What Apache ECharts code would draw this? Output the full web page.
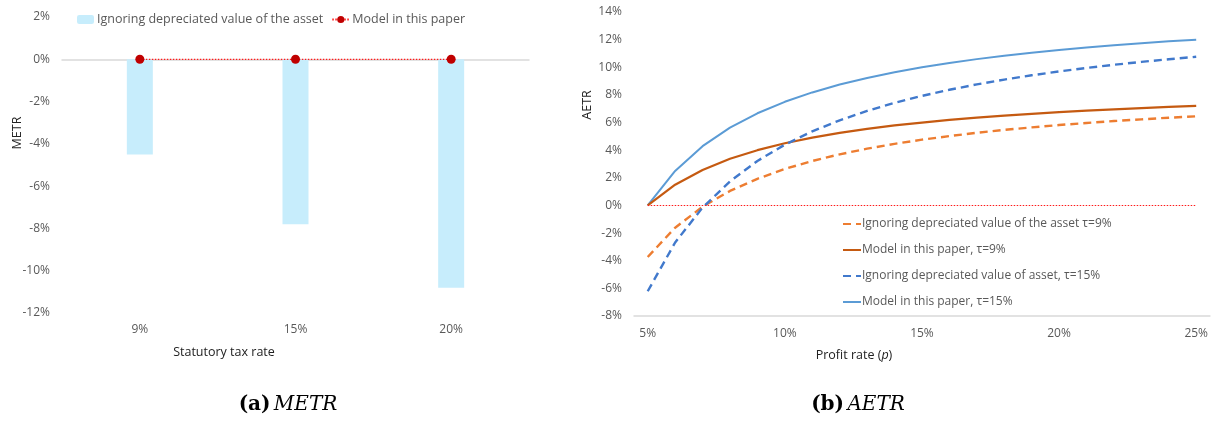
<!DOCTYPE html>
<html>
<head>
<meta charset="utf-8">
<script src="https://cdn.jsdelivr.net/npm/echarts@6/dist/echarts.min.js"></script>
<style>
html,body{margin:0;padding:0;background:#fff;}
#chart{width:1211px;height:421px;}
</style>
</head>
<body>
<div id="chart"></div>
<script>
// ---- Data (a) METR ----
const metrCategories = ['9%', '15%', '20%'];
const metrIgnoring = [-4.5, -7.8, -10.8];
const metrModel = [0, 0, 0];

// ---- Data (b) AETR ----
const profitCategories = ['5%','6%','7%','8%','9%','10%','11%','12%','13%','14%','15%','16%','17%','18%','19%','20%','21%','22%','23%','24%','25%'];
const aetrIgnoring9 = [-3.73,-1.61,-0.09,1.05,1.93,2.64,3.22,3.70,4.11,4.46,4.76,5.02,5.26,5.47,5.65,5.82,5.97,6.11,6.23,6.35,6.45];
const aetrModel9 = [0,1.50,2.57,3.38,4.00,4.50,4.91,5.25,5.54,5.79,6.00,6.19,6.35,6.50,6.63,6.75,6.86,6.95,7.04,7.13,7.20];
const aetrIgnoring15 = [-6.21,-2.68,-0.15,1.74,3.22,4.40,5.36,6.16,6.84,7.43,7.93,8.37,8.76,9.11,9.42,9.70,9.95,10.18,10.39,10.58,10.76];
const aetrModel15 = [0,2.50,4.29,5.63,6.67,7.50,8.18,8.75,9.23,9.64,10.00,10.31,10.59,10.83,11.05,11.25,11.43,11.59,11.74,11.88,12.00];

const FONT = 'Open Sans';
const TICK = '#595959';
const AXISLINE = '#D9D9D9';

const chart = echarts.init(document.getElementById('chart'), null, {renderer: 'canvas'});

const axisLabelStyle = {color: TICK, fontFamily: FONT, fontSize: 12};

chart.setOption({
  animation: false,
  backgroundColor: '#fff',
  textStyle: {fontFamily: FONT},
  grid: [
    {left: 62, top: 17, width: 467, height: 296},
    {left: 634, top: 12, width: 577, height: 304}
  ],
  xAxis: [
    {
      type: 'category', gridIndex: 0, data: metrCategories, boundaryGap: true,
      axisLine: {lineStyle: {color: AXISLINE, width: 1.5}},
      axisTick: {show: false},
      axisLabel: Object.assign({margin: 11}, axisLabelStyle)
    },
    {
      type: 'category', gridIndex: 1, data: profitCategories, boundaryGap: true,
      axisLine: {onZero: false, lineStyle: {color: AXISLINE, width: 1.5}},
      axisTick: {show: false},
      axisLabel: Object.assign({margin: 12, interval: 4}, axisLabelStyle)
    }
  ],
  yAxis: [
    {
      type: 'value', gridIndex: 0, min: -12, max: 2, interval: 2,
      axisLine: {show: false}, axisTick: {show: false}, splitLine: {show: false},
      axisLabel: Object.assign({margin: 12, formatter: '{value}%'}, axisLabelStyle)
    },
    {
      type: 'value', gridIndex: 1, min: -8, max: 14, interval: 2,
      axisLine: {show: false}, axisTick: {show: false}, splitLine: {show: false},
      axisLabel: Object.assign({margin: 12, formatter: '{value}%'}, axisLabelStyle)
    }
  ],
  legend: [
    {
      left: 72, top: 8, itemWidth: 17, itemHeight: 9, itemGap: 8,
      textStyle: {color: TICK, fontFamily: FONT, fontSize: 12.5, padding: [0, 0, 0, -2]},
      data: ['Ignoring depreciated value of the asset', 'Model in this paper']
    },
    {
      orient: 'vertical', left: 837, top: 213, itemWidth: 18, itemHeight: 14, itemGap: 14,
      itemStyle: {opacity: 0},
      textStyle: {color: TICK, fontFamily: FONT, fontSize: 12, padding: [0, 0, 0, -4]},
      data: ['Ignoring depreciated value of the asset \u03c4=9%', 'Model in this paper, \u03c4=9%',
             'Ignoring depreciated value of asset, \u03c4=15%', 'Model in this paper, \u03c4=15%']
    }
  ],
  series: [
    {
      name: 'Ignoring depreciated value of the asset', type: 'bar', xAxisIndex: 0, yAxisIndex: 0,
      data: metrIgnoring, barWidth: 26, itemStyle: {color: '#C7EDFC'}
    },
    {
      name: 'Model in this paper', type: 'line', xAxisIndex: 0, yAxisIndex: 0,
      data: metrModel, symbol: 'circle', symbolSize: 9, z: 5,
      itemStyle: {color: '#C00000'},
      lineStyle: {color: '#FF1A1A', width: 1.2, type: [1.5, 1.5]}
    },
    {
      name: 'Ignoring depreciated value of the asset \u03c4=9%', type: 'line', xAxisIndex: 1, yAxisIndex: 1,
      data: aetrIgnoring9, symbol: 'none', itemStyle: {color: '#ED7D31'},
      lineStyle: {color: '#ED7D31', width: 2.4, type: [8, 5]}
    },
    {
      name: 'Model in this paper, \u03c4=9%', type: 'line', xAxisIndex: 1, yAxisIndex: 1,
      data: aetrModel9, symbol: 'none', itemStyle: {color: '#C55A11'},
      lineStyle: {color: '#C55A11', width: 2.2}
    },
    {
      name: 'Ignoring depreciated value of asset, \u03c4=15%', type: 'line', xAxisIndex: 1, yAxisIndex: 1,
      data: aetrIgnoring15, symbol: 'none', itemStyle: {color: '#4179CC'},
      lineStyle: {color: '#4179CC', width: 2.4, type: [8, 5]}
    },
    {
      name: 'Model in this paper, \u03c4=15%', type: 'line', xAxisIndex: 1, yAxisIndex: 1,
      data: aetrModel15, symbol: 'none', itemStyle: {color: '#5B9BD5'},
      lineStyle: {color: '#5B9BD5', width: 2},
      markLine: {
        silent: true, symbol: 'none', label: {show: false},
        lineStyle: {color: '#FF1A1A', width: 1, type: [1.5, 1.5]},
        data: [[{coord: [profitCategories[0], 0]}, {coord: [profitCategories[profitCategories.length - 1], 0]}]]
      },
      z: 1
    }
  ],
  graphic: [
    {type: 'text', x: 17, y: 133, rotation: Math.PI / 2,
     style: {text: 'METR', fill: '#222', font: '12.5px "Open Sans"', align: 'center', verticalAlign: 'middle'}},
    {type: 'text', x: 224, y: 352,
     style: {text: 'Statutory tax rate', fill: '#222', font: '12.5px "Open Sans"', align: 'center', verticalAlign: 'middle'}},
    {type: 'text', x: 587, y: 105, rotation: Math.PI / 2,
     style: {text: 'AETR', fill: '#222', font: '12.5px "Open Sans"', align: 'center', verticalAlign: 'middle'}},
    {type: 'text', x: 854, y: 355,
     style: {text: '{a|Profit rate (}{i|p}{a|)}', align: 'center', verticalAlign: 'middle',
       rich: {a: {fill: '#222', fontFamily: FONT, fontSize: 12.5},
              i: {fill: '#222', fontFamily: FONT, fontSize: 12.5, fontStyle: 'italic'}}}},
    {type: 'text', x: 288, y: 405,
     style: {text: '{b|(a)} {i|METR}', align: 'center', verticalAlign: 'middle',
       rich: {b: {fill: '#000', fontFamily: 'DejaVu Serif', fontSize: 20, fontWeight: 'bold'},
              i: {fill: '#000', fontFamily: 'DejaVu Serif', fontSize: 20, fontStyle: 'italic'}}}},
    {type: 'text', x: 858, y: 405,
     style: {text: '{b|(b)} {i|AETR}', align: 'center', verticalAlign: 'middle',
       rich: {b: {fill: '#000', fontFamily: 'DejaVu Serif', fontSize: 20, fontWeight: 'bold'},
              i: {fill: '#000', fontFamily: 'DejaVu Serif', fontSize: 20, fontStyle: 'italic'}}}}
  ]
});
</script>
</body>
</html>
